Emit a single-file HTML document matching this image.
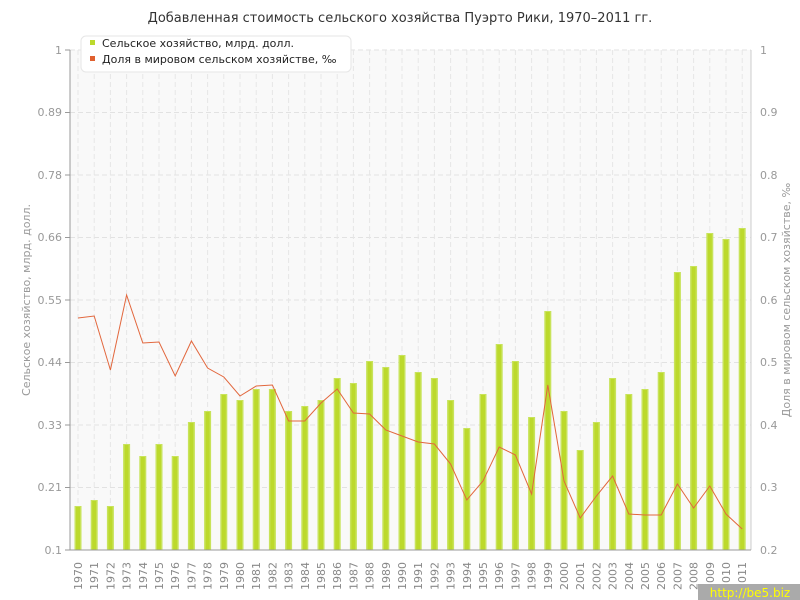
<!DOCTYPE html>
<html><head><meta charset="utf-8"><style>
body{margin:0;background:#fff;}
svg{display:block;font-family:"DejaVu Sans","Liberation Sans",sans-serif;}
.t{font-size:11px;fill:#999;}
.y{font-size:11px;fill:#888;}
</style></head><body>
<svg id="s" width="800" height="600" xmlns="http://www.w3.org/2000/svg">
<rect x="70" y="50" width="681" height="500" fill="#f9f9f9"/>
<g id="grid"></g>
<g id="bars"></g>
<polyline id="ln" fill="none" stroke="#e2673d" stroke-width="1"/>
<line x1="70" y1="50" x2="70" y2="550" stroke="#999"/>
<line x1="751" y1="50" x2="751" y2="550" stroke="#ccc"/>
<line x1="70" y1="550" x2="751" y2="550" stroke="#999"/>
<text x="400" y="22" text-anchor="middle" style="font-size:13px;fill:#333">Добавленная стоимость сельского хозяйства Пуэрто Рики, 1970–2011 гг.</text>
<g class="t" text-anchor="end">
<text x="62" y="54">1</text><text x="62" y="116">0.89</text><text x="62" y="179">0.78</text><text x="62" y="241">0.66</text><text x="62" y="304">0.55</text><text x="62" y="366">0.44</text><text x="62" y="429">0.33</text><text x="62" y="491">0.21</text><text x="62" y="554">0.1</text>
</g>
<g class="t">
<text x="760" y="54">1</text><text x="760" y="116">0.9</text><text x="760" y="179">0.8</text><text x="760" y="241">0.7</text><text x="760" y="304">0.6</text><text x="760" y="366">0.5</text><text x="760" y="429">0.4</text><text x="760" y="491">0.3</text><text x="760" y="554">0.2</text>
</g>
<text transform="translate(30,300) rotate(-90)" text-anchor="middle" style="font-size:11px;fill:#999">Сельское хозяйство, млрд. долл.</text>
<text transform="translate(790,300) rotate(-90)" text-anchor="middle" style="font-size:11px;fill:#999">Доля в мировом сельском хозяйстве, ‰</text>
<g class="y" text-anchor="end">
<text transform="translate(82,562) rotate(-90)">1970</text><text transform="translate(98.2,562) rotate(-90)">1971</text><text transform="translate(114.4,562) rotate(-90)">1972</text><text transform="translate(130.6,562) rotate(-90)">1973</text><text transform="translate(146.8,562) rotate(-90)">1974</text><text transform="translate(163,562) rotate(-90)">1975</text><text transform="translate(179.2,562) rotate(-90)">1976</text><text transform="translate(195.4,562) rotate(-90)">1977</text><text transform="translate(211.6,562) rotate(-90)">1978</text><text transform="translate(227.8,562) rotate(-90)">1979</text><text transform="translate(244,562) rotate(-90)">1980</text><text transform="translate(260.2,562) rotate(-90)">1981</text><text transform="translate(276.4,562) rotate(-90)">1982</text><text transform="translate(292.6,562) rotate(-90)">1983</text><text transform="translate(308.8,562) rotate(-90)">1984</text><text transform="translate(325,562) rotate(-90)">1985</text><text transform="translate(341.2,562) rotate(-90)">1986</text><text transform="translate(357.4,562) rotate(-90)">1987</text><text transform="translate(373.6,562) rotate(-90)">1988</text><text transform="translate(389.8,562) rotate(-90)">1989</text><text transform="translate(406,562) rotate(-90)">1990</text><text transform="translate(422.2,562) rotate(-90)">1991</text><text transform="translate(438.4,562) rotate(-90)">1992</text><text transform="translate(454.6,562) rotate(-90)">1993</text><text transform="translate(470.8,562) rotate(-90)">1994</text><text transform="translate(487,562) rotate(-90)">1995</text><text transform="translate(503.2,562) rotate(-90)">1996</text><text transform="translate(519.4,562) rotate(-90)">1997</text><text transform="translate(535.6,562) rotate(-90)">1998</text><text transform="translate(551.8,562) rotate(-90)">1999</text><text transform="translate(568,562) rotate(-90)">2000</text><text transform="translate(584.2,562) rotate(-90)">2001</text><text transform="translate(600.4,562) rotate(-90)">2002</text><text transform="translate(616.6,562) rotate(-90)">2003</text><text transform="translate(632.8,562) rotate(-90)">2004</text><text transform="translate(649,562) rotate(-90)">2005</text><text transform="translate(665.2,562) rotate(-90)">2006</text><text transform="translate(681.4,562) rotate(-90)">2007</text><text transform="translate(697.6,562) rotate(-90)">2008</text><text transform="translate(713.8,562) rotate(-90)">2009</text><text transform="translate(730,562) rotate(-90)">2010</text><text transform="translate(746.2,562) rotate(-90)">2011</text>
</g>
<rect x="81" y="36" width="270" height="36" rx="5" fill="#fff" stroke="#e6e6e6"/>
<rect x="90" y="40" width="5" height="5" fill="#bcd92c"/>
<rect x="90" y="56" width="5" height="5" fill="#e0602f"/>
<text x="102" y="47" style="font-size:11px;fill:#222">Сельское хозяйство, млрд. долл.</text>
<text x="102" y="63" style="font-size:11px;fill:#222">Доля в мировом сельском хозяйстве, ‰</text>
<rect x="698" y="584" width="102" height="16" fill="#aaa"/>
<text x="750" y="597" text-anchor="middle" style="font-size:12px;fill:#ff0">http://be5.biz</text>
</svg>
<script>
var ns="http://www.w3.org/2000/svg";
var bt=[506,500,506,444,456,444,456,422,411,394,400,389,389,411,406,400,378,383,361,367,355,372,378,400,428,394,344,361,417,311,411,450,422,378,394,389,372,272,266,233,239,228];
var ly=[318,316,370,295,343,342,376,341,368,377,396,386,385,421,421,403,389,413,414,430,436,442,444,464,500,481,447,455,494,385,481,518,496,476,514,515,515,484,508,486,514,529];
var g=document.getElementById('grid'),b=document.getElementById('bars');
function el(p,t,a){var e=document.createElementNS(ns,t);for(var k in a)e.setAttribute(k,a[k]);p.appendChild(e);return e;}
for(var k=0;k<9;k++){var y=50+k*62.5;el(g,'line',{x1:70,x2:751,y1:y,y2:y,stroke:'#e2e2e2','stroke-dasharray':'5,3'});el(g,'line',{x1:65,x2:70,y1:y,y2:y,stroke:'#999'});}
var pts=[];
for(var i=0;i<42;i++){var x=78+16.2*i;
el(g,'line',{x1:x,x2:x,y1:50,y2:550,stroke:'#e6e6e6','stroke-dasharray':'5,3'});
el(b,'rect',{x:x-3.5,y:bt[i],width:7,height:550-bt[i],fill:'#c8e35a'});
el(b,'rect',{x:x-2,y:bt[i]+1,width:4,height:549-bt[i],fill:'#bcd92c'});
pts.push(x+','+ly[i]);}
document.getElementById('ln').setAttribute('points',pts.join(' '));
</script>
</body></html>
